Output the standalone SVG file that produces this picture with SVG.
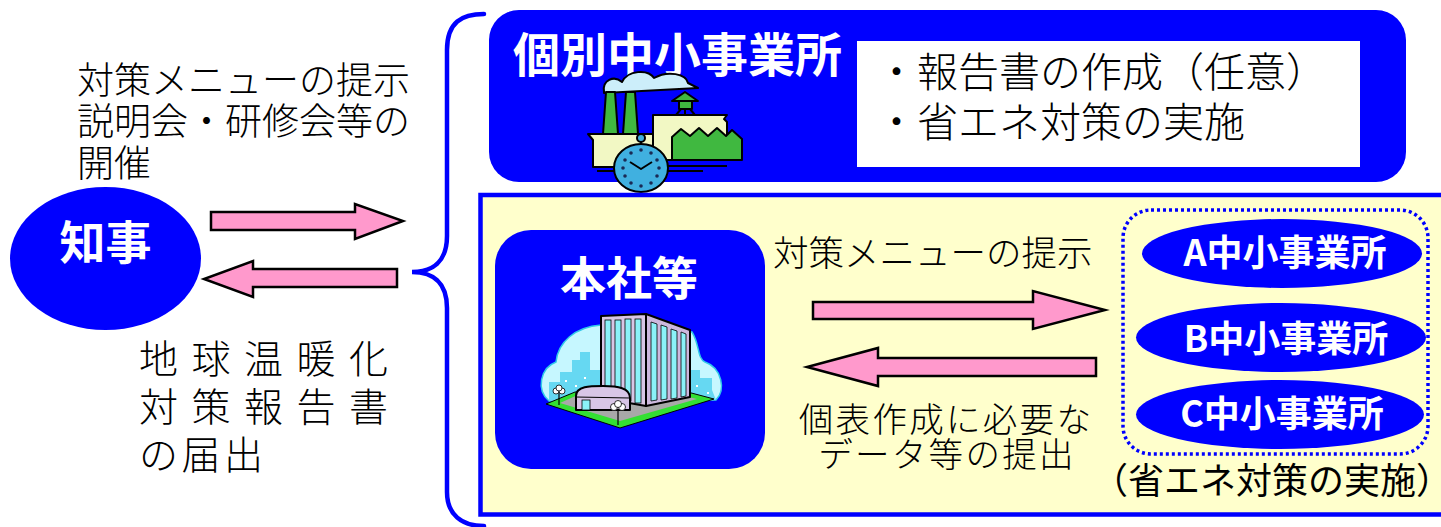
<svg xmlns="http://www.w3.org/2000/svg" width="1441" height="527" viewBox="0 0 1441 527">
  <style>
    .blue { fill: #0000FF; }
    .arrow { fill: #FF99CC; stroke: #000; stroke-width: 2.5; stroke-linejoin: miter; }
    .lbl { font-family: "Noto Sans CJK JP", "Noto Sans CJK SC", sans-serif; font-weight: 300; fill: #000; }
    .head { font-family: "Noto Sans CJK JP", "Noto Sans CJK SC", sans-serif; font-weight: 700; fill: #FFF; }
    .gothic { font-family: "Noto Sans CJK JP", "Noto Sans CJK SC", sans-serif; font-weight: 400; fill: #000; font-feature-settings: "halt"; }
    .ink { stroke: #000; stroke-width: 2; stroke-linejoin: round; }
  </style>

  <rect width="1441" height="527" fill="#FFFFFF"/>

  <!-- Governor -->
  <g id="chiji">
    <ellipse class="blue" cx="105.5" cy="258.5" rx="95.5" ry="71.5"/>
    <text class="head" x="105.5" y="259" font-size="46" text-anchor="middle">知事</text>
  </g>

  <!-- Labels beside the governor arrows -->
  <g id="governor-labels">
    <text class="lbl" font-size="37" x="77" y="94">対策メニューの提示</text>
    <text class="lbl" font-size="37" x="77" y="135">説明会・研修会等の</text>
    <text class="lbl" font-size="37" x="77" y="177">開催</text>
    <text class="lbl" font-size="39" x="139" y="373" letter-spacing="13.5">地球温暖化</text>
    <text class="lbl" font-size="39" x="139" y="421" letter-spacing="13.5">対策報告書</text>
    <text class="lbl" font-size="39" x="139" y="469" letter-spacing="3.5">の届出</text>
  </g>

  <!-- Individual small business (top panel) -->
  <g id="kobetsu">
    <rect class="blue" x="489" y="10" width="917" height="172" rx="30"/>
    <rect x="857" y="41" width="503" height="126" fill="#FFFFFF"/>
    <text class="head" x="513" y="72" font-size="47">個別中小事業所</text>
    <text class="lbl" font-size="41" x="876" y="87">・報告書の作成（任意）</text>
    <text class="lbl" font-size="41" x="876" y="137">・省エネ対策の実施</text>

    <!-- factory clipart -->
    <g id="factory">
      <path d="M604 92 C602 80 614 75 622 82 C628 70 648 69 654 78 C668 70 686 74 688 83 L698 88 L604 93 Z" fill="#CCEEFA" class="ink" stroke-width="1.5"/>
      <polygon points="603,134 606,92 615,92 618,134" fill="#40B840" class="ink"/>
      <polygon points="623,134 626,92 635,92 638,134" fill="#40B840" class="ink"/>
      <polygon points="588,134 660,134 660,167 593,167 593,140" fill="#F2F8C4" class="ink"/>
      <polygon points="653,115 727,115 724,119 727,122 727,160 653,160" fill="#F2F8C4" class="ink"/>
      <polygon points="672,101 685,92 698,101" fill="#40B840" class="ink" stroke-width="1.5"/>
      <rect x="679" y="101" width="13" height="8" fill="#40B840" class="ink" stroke-width="1.5"/>
      <path d="M681 109 L676 115 M690 109 L695 115 M685 109 L685 115" class="ink" stroke-width="1.5" fill="none"/>
      <polygon points="672,160 672,137 681,129 690,136 699,128 708,136 717,128 726,136 732,130 742,139 742,160" fill="#40B840" class="ink"/>
      <path d="M597 171 L614 171 M668 171 L703 171 M668 166 L727 166" class="ink" stroke-width="2" fill="none"/>
      <line x1="641" y1="140" x2="641" y2="145" class="ink"/>
      <circle cx="641" cy="138" r="4" fill="#40B0E0" class="ink" stroke-width="1.8"/>
      <ellipse cx="641" cy="168" rx="27" ry="24" fill="#40B0E0" class="ink" stroke-width="2.5"/>
      <g fill="#1A2A55">
        <circle cx="641" cy="150" r="1.8"/><circle cx="651" cy="153" r="1.8"/><circle cx="657" cy="160" r="1.8"/>
        <circle cx="659" cy="168" r="1.8"/><circle cx="657" cy="176" r="1.8"/><circle cx="651" cy="183" r="1.8"/>
        <circle cx="641" cy="186" r="1.8"/><circle cx="631" cy="183" r="1.8"/><circle cx="625" cy="176" r="1.8"/>
        <circle cx="623" cy="168" r="1.8"/><circle cx="625" cy="160" r="1.8"/><circle cx="631" cy="153" r="1.8"/>
      </g>
      <polyline points="630,162 641,169 652,162" fill="none" class="ink" stroke-width="2"/>
    </g>
  </g>

  <!-- Lower panel: head office and its business units -->
  <g id="group-panel">
    <rect x="480.5" y="195" width="980" height="319.5" fill="#FFFFCC" stroke="#0000FF" stroke-width="4.5"/>
  </g>

  <g id="honsha">
    <rect class="blue" x="495" y="230" width="270" height="239" rx="36"/>
    <text class="head" x="629" y="295" font-size="46" text-anchor="middle">本社等</text>

    <!-- office building clipart -->
    <g id="office">
      <path d="M549 401 C536 390 540 368 556 362 C558 342 575 327 601 325 L692 332 C700 345 697 358 705 362 C722 368 726 390 716 400 Z" fill="#C6F7FF" stroke="#30C8E8" stroke-width="1.5"/>
      <path d="M549 401 L549 382 L560 382 L560 372 L572 372 L572 360 L580 360 L580 352 L590 352 L590 370 L601 370 L601 401 Z" fill="#66D8F2"/>
      <path d="M690 401 L690 370 L700 370 L700 378 L712 378 L712 390 L716 400 Z" fill="#66D8F2"/>
      <g fill="#FFFFFF">
        <rect x="555" y="388" width="2" height="2"/><rect x="565" y="380" width="2" height="2"/>
        <rect x="575" y="385" width="2" height="2"/><rect x="584" y="377" width="2" height="2"/>
        <rect x="696" y="385" width="2" height="2"/><rect x="707" y="392" width="2" height="2"/>
      </g>
      <polygon points="546,404 620,428 714,399 665,386 575,392" fill="#33E033" stroke="#000" stroke-width="1"/>
      <polygon points="560,403 620,421 697,399 660,390 580,394" fill="#A8A8A8"/>
      <polygon points="601,316 646,314 646,406 601,398" fill="#D8C6E6" class="ink" stroke-width="1.5"/>
      <polygon points="646,314 690,330 690,397 646,406" fill="#CDB8DE" class="ink" stroke-width="1.5"/>
      <g fill="#8AF2F8" stroke="#000" stroke-width="0.8">
        <rect x="605" y="320" width="6" height="78"/><rect x="615" y="320" width="6" height="80"/>
        <rect x="625" y="319" width="6" height="82"/><rect x="635" y="319" width="6" height="84"/>
        <polygon points="651,322 657,324 657,400 651,401"/>
        <polygon points="661,325 667,327 667,399 661,400"/>
        <polygon points="671,329 677,331 677,398 671,399"/>
        <polygon points="681,332 686,334 686,396 681,397"/>
      </g>
      <path d="M576 410 L576 396 C576 386 590 386 603 386 C618 386 630 388 630 398 L630 410 Z" fill="#D8C6E6" class="ink" stroke-width="1.5"/>
      <line x1="576" y1="397" x2="630" y2="398" stroke="#000" stroke-width="1"/>
      <rect x="582" y="400" width="8" height="10" fill="#8AF2F8" stroke="#000" stroke-width="0.8"/>
      <line x1="559" y1="393" x2="559" y2="405" stroke="#000" stroke-width="1.2"/>
      <circle cx="556" cy="391" r="3" fill="#FFF" stroke="#000" stroke-width="0.8"/>
      <circle cx="562" cy="391" r="3" fill="#FFF" stroke="#000" stroke-width="0.8"/>
      <circle cx="559" cy="388" r="3" fill="#FFF" stroke="#000" stroke-width="0.8"/>
      <line x1="618" y1="409" x2="618" y2="425" stroke="#000" stroke-width="1.2"/>
      <circle cx="614" cy="407" r="3.5" fill="#FFF" stroke="#000" stroke-width="0.8"/>
      <circle cx="622" cy="407" r="3.5" fill="#FFF" stroke="#000" stroke-width="0.8"/>
      <circle cx="618" cy="404" r="3.5" fill="#FFF" stroke="#000" stroke-width="0.8"/>
    </g>
  </g>

  <!-- Business units A/B/C inside the dotted grouping -->
  <g id="units">
    <rect x="1123" y="210" width="305" height="244" rx="28" fill="none" stroke="#0000FF" stroke-width="3.5" stroke-dasharray="3 3"/>
    <g id="unit-a">
      <ellipse class="blue" cx="1282" cy="253.5" rx="140" ry="34.5"/>
      <text class="head" x="1285" y="266" font-size="36" text-anchor="middle">A中小事業所</text>
    </g>
    <g id="unit-b">
      <ellipse class="blue" cx="1281" cy="337.5" rx="145" ry="34.5"/>
      <text class="head" x="1286" y="352" font-size="36" text-anchor="middle">B中小事業所</text>
    </g>
    <g id="unit-c">
      <ellipse class="blue" cx="1280" cy="414.5" rx="144" ry="34.5"/>
      <text class="head" x="1282" y="427" font-size="36" text-anchor="middle">C中小事業所</text>
    </g>
    <text class="gothic" x="1272" y="494" font-size="36" text-anchor="middle">（省エネ対策の実施）</text>
  </g>

  <!-- Labels between head office and units -->
  <g id="honsha-labels">
    <text class="lbl" font-size="35.5" x="773" y="266">対策メニューの提示</text>
    <text class="lbl" font-size="34.5" x="946" y="432" text-anchor="middle" letter-spacing="2.3">個表作成に必要な</text>
    <text class="lbl" font-size="34.5" x="947" y="467" text-anchor="middle" letter-spacing="2.3">データ等の提出</text>
  </g>

  <!-- Connectors -->
  <g id="connectors">
    <path d="M484 14 C462 14 447 22 447 50 L447 236 C447 262 432 272 412 272 C432 272 447 282 447 308 L447 492 C447 515 462 526 484 526" fill="none" stroke="#0000FF" stroke-width="4.5" stroke-linecap="round"/>
    <polygon class="arrow" points="211,212 355,212 355,204 403,221 355,239 355,230 211,230"/>
    <polygon class="arrow" points="397,269 253,269 253,261 204,279 253,297 253,287 397,287"/>
    <polygon class="arrow" points="813,302 1033,302 1033,291 1105,310 1033,329 1033,319 813,319"/>
    <polygon class="arrow" points="1096,358 878,358 878,348 807,367 878,386 878,376 1096,376"/>
  </g>
</svg>
